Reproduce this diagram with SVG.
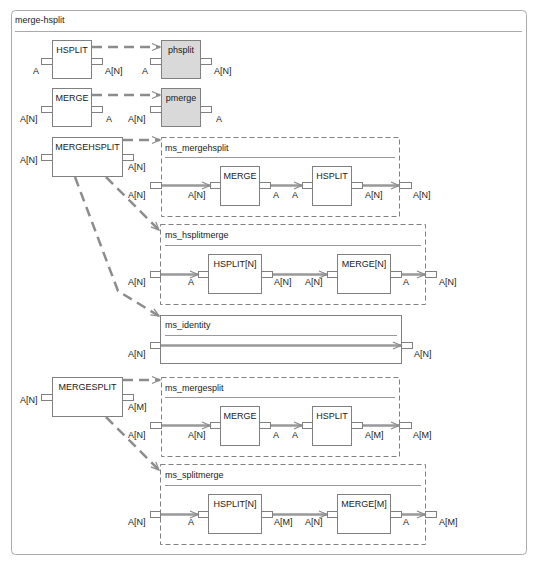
<svg xmlns="http://www.w3.org/2000/svg" width="537" height="567" viewBox="0 0 537 567">
<defs>
<marker id="ah" markerUnits="userSpaceOnUse" markerWidth="12" markerHeight="10" refX="9" refY="4" orient="auto" overflow="visible">
<path d="M1,0.5 L9,4 L1,7.5" fill="none" stroke="#8c8c8c" stroke-width="1.3"/>
</marker>
</defs>
<style>
text{font-family:"Liberation Sans",Arial,sans-serif;font-size:9px;fill:#1a1a1a}
.c{text-anchor:middle}
.box{fill:#fff;stroke:#808080;stroke-width:1}
.grey{fill:#d9d9d9;stroke:#808080;stroke-width:1}
.comp{fill:#fff;stroke:#808080;stroke-width:1;stroke-dasharray:5,3}
.port{fill:#fff;stroke:#808080;stroke-width:1}
.hdr{stroke:#999;stroke-width:1}
.dash{fill:none;stroke:#8c8c8c;stroke-width:2.5;stroke-dasharray:10,6}
.flow{fill:none;stroke:#999;stroke-width:2.5}
</style>
<rect width="537" height="567" fill="#fff"/>
<g id="frame">
<rect x="11.5" y="10.5" width="515" height="544" rx="4" fill="#fff" stroke="#aaa"/>
<line x1="15" y1="31.5" x2="522" y2="31.5" stroke="#aaa"/>
<text x="15" y="23">merge-hsplit</text>
</g>
<g id="hsplit">
<rect class="box" x="52.5" y="40.5" width="39" height="38"/>
<text class="c" x="72" y="53">HSPLIT</text>
<rect class="port" x="41.5" y="58.5" width="11" height="6"/>
<rect class="port" x="91.5" y="58.5" width="11" height="6"/>
<text x="33" y="74">A</text>
<text x="105" y="74">A[N]</text>
</g>
<g id="phsplit">
<rect class="grey" x="161.5" y="40.5" width="39" height="38"/>
<text class="c" x="181" y="53">phsplit</text>
<rect class="port" x="150.5" y="58.5" width="11" height="6"/>
<rect class="port" x="200.5" y="58.5" width="11" height="6"/>
<text x="142" y="74">A</text>
<text x="214" y="74">A[N]</text>
</g>
<g id="merge">
<rect class="box" x="52.5" y="88.5" width="39" height="38"/>
<text class="c" x="72" y="101">MERGE</text>
<rect class="port" x="41.5" y="106.5" width="11" height="6"/>
<rect class="port" x="91.5" y="106.5" width="11" height="6"/>
<text x="20" y="122">A[N]</text>
<text x="106" y="122">A</text>
</g>
<g id="pmerge">
<rect class="grey" x="161.5" y="88.5" width="39" height="38"/>
<text class="c" x="181" y="101">pmerge</text>
<rect class="port" x="150.5" y="106.5" width="11" height="6"/>
<rect class="port" x="200.5" y="106.5" width="11" height="6"/>
<text x="128" y="122">A[N]</text>
<text x="216" y="122">A</text>
</g>
<g id="mergehsplit">
<rect class="box" x="52.5" y="137.5" width="70" height="39"/>
<text class="c" x="87.5" y="150">MERGEHSPLIT</text>
<rect class="port" x="41.5" y="154.5" width="11" height="6"/>
<rect class="port" x="122.5" y="154.5" width="11" height="6"/>
<text x="20" y="163">A[N]</text>
<text x="128" y="170">A[N]</text>
</g>
<g id="ms_mergehsplit">
<rect class="comp" x="161.5" y="137.5" width="238" height="79"/>
<text x="165" y="151">ms_mergehsplit</text>
<line class="hdr" x1="165" y1="157.5" x2="395" y2="157.5"/>
<rect class="port" x="150.5" y="182.5" width="11" height="6"/>
<rect class="port" x="399.5" y="182.5" width="12" height="6"/>
<rect class="box" x="220.5" y="166.5" width="39" height="39"/>
<text class="c" x="240" y="179">MERGE</text>
<rect class="port" x="210.5" y="182.5" width="10" height="6"/>
<rect class="port" x="259.5" y="182.5" width="11" height="6"/>
<rect class="box" x="312.5" y="166.5" width="39" height="39"/>
<text class="c" x="332" y="179">HSPLIT</text>
<rect class="port" x="302.5" y="182.5" width="10" height="6"/>
<rect class="port" x="351.5" y="182.5" width="11" height="6"/>
<text x="128" y="198">A[N]</text>
<text x="188" y="198">A[N]</text>
<text x="273" y="198">A</text>
<text x="292" y="198">A</text>
<text x="365" y="198">A[N]</text>
<text x="413" y="198">A[N]</text>
</g>
<g id="ms_hsplitmerge">
<rect class="comp" x="160.5" y="224.5" width="265" height="80"/>
<text x="165" y="238">ms_hsplitmerge</text>
<line class="hdr" x1="165" y1="245.5" x2="421" y2="245.5"/>
<rect class="port" x="150.5" y="271.5" width="10" height="6"/>
<rect class="port" x="425.5" y="271.5" width="11" height="6"/>
<rect class="box" x="208.5" y="254.5" width="53" height="39"/>
<text class="c" x="235" y="267">HSPLIT[N]</text>
<rect class="port" x="198.5" y="271.5" width="10" height="6"/>
<rect class="port" x="261.5" y="271.5" width="11" height="6"/>
<rect class="box" x="337.5" y="254.5" width="53" height="39"/>
<text class="c" x="364" y="267">MERGE[N]</text>
<rect class="port" x="327.5" y="271.5" width="10" height="6"/>
<rect class="port" x="390.5" y="271.5" width="11" height="6"/>
<text x="128" y="285">A[N]</text>
<text x="188" y="285">A</text>
<text x="274" y="285">A[N]</text>
<text x="305" y="285">A[N]</text>
<text x="403" y="285">A</text>
<text x="439" y="285">A[N]</text>
</g>
<g id="ms_identity">
<rect class="box" x="160.5" y="315.5" width="241" height="48"/>
<text x="165" y="328">ms_identity</text>
<line class="hdr" x1="165" y1="335.5" x2="397" y2="335.5"/>
<rect class="port" x="150.5" y="342.5" width="10" height="6"/>
<rect class="port" x="401.5" y="342.5" width="11" height="6"/>
<text x="128" y="357">A[N]</text>
<text x="414" y="357">A[N]</text>
</g>
<g id="mergesplit">
<rect class="box" x="52.5" y="377.5" width="70" height="39"/>
<text class="c" x="87.5" y="390">MERGESPLIT</text>
<rect class="port" x="41.5" y="394.5" width="11" height="6"/>
<rect class="port" x="122.5" y="394.5" width="11" height="6"/>
<text x="20" y="403">A[N]</text>
<text x="128" y="410">A[M]</text>
</g>
<g id="ms_mergesplit">
<rect class="comp" x="161.5" y="377.5" width="238" height="79"/>
<text x="165" y="391">ms_mergesplit</text>
<line class="hdr" x1="165" y1="397.5" x2="395" y2="397.5"/>
<rect class="port" x="150.5" y="422.5" width="11" height="6"/>
<rect class="port" x="399.5" y="422.5" width="12" height="6"/>
<rect class="box" x="220.5" y="406.5" width="39" height="39"/>
<text class="c" x="240" y="419">MERGE</text>
<rect class="port" x="210.5" y="422.5" width="10" height="6"/>
<rect class="port" x="259.5" y="422.5" width="11" height="6"/>
<rect class="box" x="312.5" y="406.5" width="39" height="39"/>
<text class="c" x="332" y="419">HSPLIT</text>
<rect class="port" x="302.5" y="422.5" width="10" height="6"/>
<rect class="port" x="351.5" y="422.5" width="11" height="6"/>
<text x="128" y="438">A[N]</text>
<text x="188" y="438">A[N]</text>
<text x="273" y="438">A</text>
<text x="292" y="438">A</text>
<text x="365" y="438">A[M]</text>
<text x="413" y="438">A[M]</text>
</g>
<g id="ms_splitmerge">
<rect class="comp" x="160.5" y="464.5" width="265" height="80"/>
<text x="165" y="478">ms_splitmerge</text>
<line class="hdr" x1="165" y1="485.5" x2="421" y2="485.5"/>
<rect class="port" x="150.5" y="511.5" width="10" height="6"/>
<rect class="port" x="425.5" y="511.5" width="11" height="6"/>
<rect class="box" x="208.5" y="494.5" width="53" height="39"/>
<text class="c" x="235" y="507">HSPLIT[N]</text>
<rect class="port" x="198.5" y="511.5" width="10" height="6"/>
<rect class="port" x="261.5" y="511.5" width="11" height="6"/>
<rect class="box" x="337.5" y="494.5" width="53" height="39"/>
<text class="c" x="364" y="507">MERGE[M]</text>
<rect class="port" x="327.5" y="511.5" width="10" height="6"/>
<rect class="port" x="390.5" y="511.5" width="11" height="6"/>
<text x="128" y="525">A[N]</text>
<text x="188" y="525">A</text>
<text x="274" y="525">A[M]</text>
<text x="305" y="525">A[N]</text>
<text x="403" y="525">A</text>
<text x="439" y="525">A[M]</text>
</g>
<g id="connectors">
<line class="dash" x1="92" y1="47" x2="160" y2="47" marker-end="url(#ah)"/>
<line class="dash" x1="92" y1="95" x2="160" y2="95" marker-end="url(#ah)"/>
<line class="dash" x1="123" y1="140" x2="160" y2="140" marker-end="url(#ah)"/>
<line class="dash" x1="106" y1="177" x2="159" y2="230" marker-end="url(#ah)"/>
<polyline class="dash" points="75,177 118,291 159,316" marker-end="url(#ah)"/>
<line class="dash" x1="123" y1="380" x2="160" y2="380" marker-end="url(#ah)"/>
<line class="dash" x1="106" y1="417" x2="159" y2="470" marker-end="url(#ah)"/>
<line class="flow" x1="162" y1="185.5" x2="210" y2="185.5" marker-end="url(#ah)"/>
<line class="flow" x1="271" y1="185.5" x2="302" y2="185.5" marker-end="url(#ah)"/>
<line class="flow" x1="363" y1="185.5" x2="399" y2="185.5" marker-end="url(#ah)"/>
<line class="flow" x1="161" y1="274.5" x2="198" y2="274.5" marker-end="url(#ah)"/>
<line class="flow" x1="273" y1="274.5" x2="327" y2="274.5" marker-end="url(#ah)"/>
<line class="flow" x1="402" y1="274.5" x2="425" y2="274.5" marker-end="url(#ah)"/>
<line class="flow" x1="161" y1="345.5" x2="401" y2="345.5" marker-end="url(#ah)"/>
<line class="flow" x1="162" y1="425.5" x2="210" y2="425.5" marker-end="url(#ah)"/>
<line class="flow" x1="271" y1="425.5" x2="302" y2="425.5" marker-end="url(#ah)"/>
<line class="flow" x1="363" y1="425.5" x2="399" y2="425.5" marker-end="url(#ah)"/>
<line class="flow" x1="161" y1="514.5" x2="198" y2="514.5" marker-end="url(#ah)"/>
<line class="flow" x1="273" y1="514.5" x2="327" y2="514.5" marker-end="url(#ah)"/>
<line class="flow" x1="402" y1="514.5" x2="425" y2="514.5" marker-end="url(#ah)"/>
</g>
</svg>
